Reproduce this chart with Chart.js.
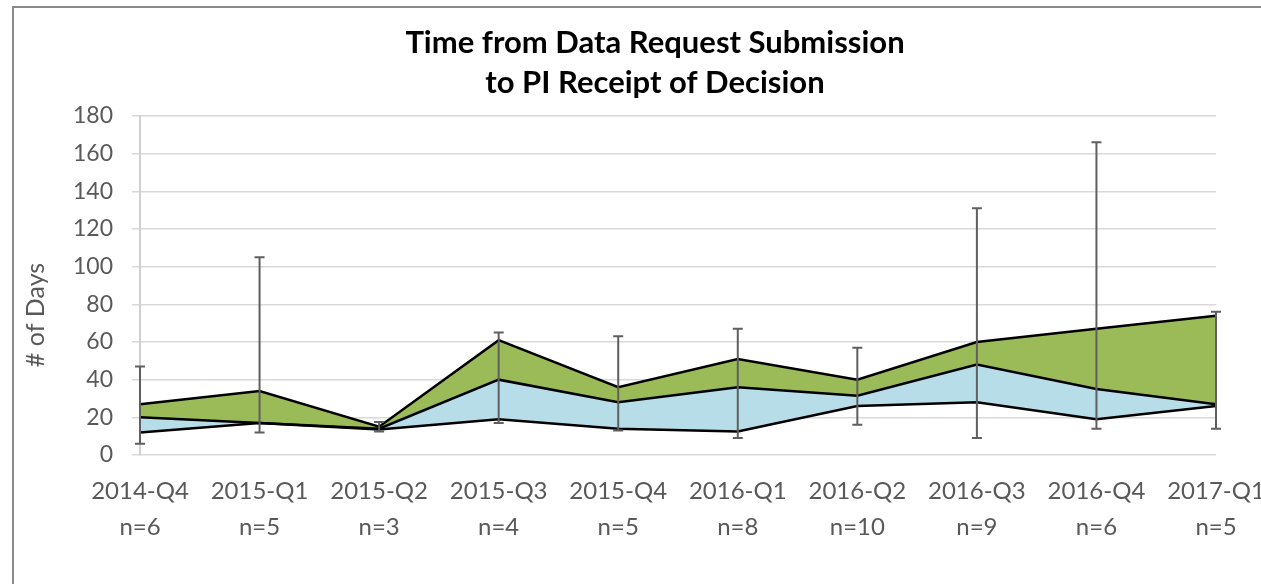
<!DOCTYPE html>
<html>
<head>
<meta charset="utf-8">
<script src="https://cdn.jsdelivr.net/npm/chart.js@4.4.1/dist/chart.umd.min.js"></script>
<style>
  html, body { margin: 0; padding: 0; background: #ffffff; overflow: hidden; width: 1261px; height: 584px; }
  #frame { position: absolute; left: 12px; top: 6px; width: 1400px; height: 700px;
           border-top: 2px solid #8a8a8a; border-left: 2px solid #8a8a8a; }
  #wrap { position: absolute; left: 0; top: 0; width: 1300px; height: 584px; }
</style>
</head>
<body>
<div id="frame"></div>
<div id="wrap"><canvas id="c" width="1300" height="584"></canvas></div>
<script>
// ---- data ----
const categories = ['2014-Q4','2015-Q1','2015-Q2','2015-Q3','2015-Q4','2016-Q1','2016-Q2','2016-Q3','2016-Q4','2017-Q1'];
const counts     = ['n=6','n=5','n=3','n=4','n=5','n=8','n=10','n=9','n=6','n=5'];
const lowerQ     = [12, 17, 13.5, 19, 14, 12.5, 26, 28, 19, 26];
const medianV    = [20, 17, 14, 40, 28, 36, 31.5, 48, 35, 27];
const upperQ     = [27, 34, 15, 61, 36, 51, 40, 60, 67, 74];
const minV       = [6, 12, 12.5, 17, 13, 9, 16, 9, 14, 14];
const maxV       = [47, 105, 17.5, 65, 63, 67, 57, 131, 166, 76];
const yTicks     = [0, 20, 40, 60, 80, 100, 120, 140, 160, 180];
const titleLines = ['Time from Data Request Submission', 'to PI Receipt of Decision'];
const yTitle     = '# of Days';

const labels = categories.map((c, i) => [c, counts[i]]);

const errorBars = {
  id: 'errorBars',
  afterDatasetsDraw(chart) {
    const ctx = chart.ctx, xs = chart.scales.x, ys = chart.scales.y;
    ctx.save();
    ctx.strokeStyle = '#5f5f5f';
    ctx.lineWidth = 2;
    for (let i = 0; i < categories.length; i++) {
      const x = xs.getPixelForValue(i);
      const y1 = ys.getPixelForValue(minV[i]);
      const y2 = ys.getPixelForValue(maxV[i]);
      ctx.beginPath();
      ctx.moveTo(x, y1); ctx.lineTo(x, y2);
      ctx.moveTo(x - 5, y1); ctx.lineTo(x + 5, y1);
      ctx.moveTo(x - 5, y2); ctx.lineTo(x + 5, y2);
      ctx.stroke();
    }
    ctx.restore();
  }
};

const texts = {
  id: 'texts',
  afterDraw(chart) {
    const ctx = chart.ctx;
    ctx.save();
    ctx.fillStyle = '#000000';
    ctx.font = 'bold 31px Lato';
    ctx.textAlign = 'center';
    ctx.textBaseline = 'middle';
    ctx.fillText(titleLines[0], 655, 43);
    ctx.fillText(titleLines[1], 655, 83);
    ctx.fillStyle = '#595959';
    ctx.font = '25px Lato';
    ctx.translate(36, 315);
    ctx.rotate(-Math.PI / 2);
    ctx.fillText(yTitle, 0, 0);
    ctx.restore();
  }
};

function build() {
  new Chart(document.getElementById('c'), {
    type: 'line',
    data: {
      labels: labels,
      datasets: [
        { label: 'Lower', data: lowerQ, borderColor: '#000000', borderWidth: 2.5, pointRadius: 0, fill: false, tension: 0 },
        { label: 'Median', data: medianV, borderColor: '#000000', borderWidth: 2.5, pointRadius: 0, fill: '-1', backgroundColor: '#b7dde8', tension: 0 },
        { label: 'Upper', data: upperQ, borderColor: '#000000', borderWidth: 2.5, pointRadius: 0, fill: '-1', backgroundColor: '#9bbb59', tension: 0 }
      ]
    },
    options: {
      responsive: false,
      animation: false,
      devicePixelRatio: 1,
      layout: { padding: { top: 116, left: 0, right: 84, bottom: 29 } },
      plugins: {
        legend: { display: false },
        title: { display: false },
        tooltip: { enabled: false },
        filler: { drawTime: 'beforeDatasetsDraw' }
      },
      scales: {
        x: {
          offset: false,
          grid: { display: false, drawTicks: false },
          border: { display: false },
          ticks: { color: '#595959', font: { family: 'Lato', size: 24, lineHeight: '36px' }, padding: 18, maxRotation: 0, autoSkip: false },
          afterFit(s) { s.height = 100; }
        },
        y: {
          min: 0, max: 180,
          afterBuildTicks(s) { s.ticks = yTicks.map(v => ({ value: v })); },
          grid: { color: '#d9d9d9', lineWidth: 1.5, tickLength: 8, drawTicks: true },
          border: { display: true, color: '#d0d0d0', width: 2 },
          ticks: { color: '#595959', font: { family: 'Lato', size: 23 }, padding: 19 },
          afterFit(s) { s.width = 140; }
        }
      }
    },
    plugins: [errorBars, texts]
  });
}

Promise.all([
  document.fonts.load('24px Lato'),
  document.fonts.load('bold 31px Lato')
]).then(build, build);
</script>
</body>
</html>
